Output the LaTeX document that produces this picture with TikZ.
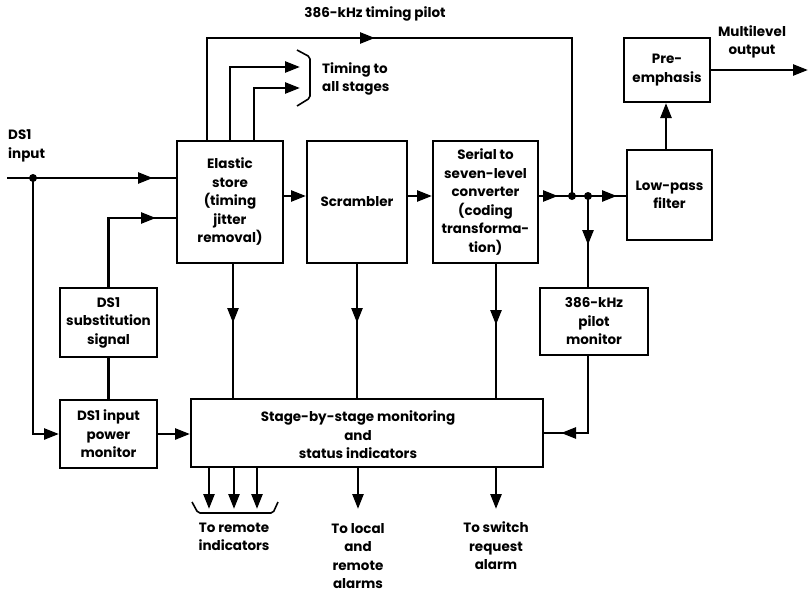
\documentclass[tikz,border=0pt]{standalone}
\usepackage{fontspec}
\setmainfont{Poppins}
\usetikzlibrary{arrows.meta,decorations.markings,calc}
\begin{document}
\begin{tikzpicture}[x=1pt,y=-1pt,
  font=\fontsize{13.5}{18.5}\selectfont\bfseries,
  box/.style={draw, line width=2pt, align=center, inner sep=0pt},
  wire/.style={line width=2.6pt},
  tip/.style={-{Triangle[length=15pt,width=11pt]}},
  arrowat/.style={postaction={decorate, decoration={markings, mark=at position #1 with {\arrow{Triangle[length=15pt,width=11pt]}}}}},
  dot/.style={circle, fill, inner sep=0pt, minimum size=8pt},
  lbl/.style={align=center, inner sep=0pt}]
\useasboundingbox (0,0) rectangle (812,592);

% boxes
\node[box, minimum width=106pt, minimum height=122pt] (el) at (230,202) {Elastic\\store\\(timing\\jitter\\removal)};
\node[box, minimum width=100pt, minimum height=122pt] (scr) at (357,202) {Scrambler};
\node[box, minimum width=105pt, minimum height=122pt] (ser) at (485.5,202) {Serial to\\seven-level\\converter\\(coding\\transforma-\\tion)};
\node[box, minimum width=85pt, minimum height=90pt] (lpf) at (669.5,195) {Low-pass\\filter};
\node[box, minimum width=86pt, minimum height=64pt] (pre) at (667,70) {Pre-\\emphasis};
\node[box, minimum width=97pt, minimum height=69pt] (sub) at (108.5,322.5) {DS1\\substitution\\signal};
\node[box, minimum width=97pt, minimum height=68pt] (pwr) at (108.5,434) {DS1 input\\power\\monitor};
\node[box, minimum width=352pt, minimum height=68pt] (stage) at (367,433) {};
\node[lbl] (stagetxt) at (358,435) {Stage-by-stage monitoring\\and\\status indicators};
\node[box, minimum width=108pt, minimum height=67pt] (pil) at (594,321.5) {386-kHz\\pilot\\monitor};

% labels
\node[lbl] (tplbl) at (375,14) {386-kHz timing pilot};
\node[lbl] (mlo) at (752,42) {Multilevel\\output};
\node[lbl, align=left, anchor=west] (ds1in) at (8,146) {DS1\\input};
\node[lbl, align=left, anchor=west] (tts) at (322,79) {Timing to\\all stages};
\node[lbl] (trem) at (234,537) {To remote\\indicators};
\node[lbl] (tloc) at (358,556) {To local\\and\\remote\\alarms};
\node[lbl] (tsw) at (496,546) {To switch\\request\\alarm};

% coordinates
\coordinate (in0) at (7,178);
\coordinate (j1) at (33,178);
\coordinate (chain) at (0,196);
\coordinate (tpc) at (572,38);
\coordinate (ja) at (572,196);
\coordinate (jb) at (588,196);
\coordinate (tb1) at (300,67);
\coordinate (tb2) at (300,88);
\coordinate (x1) at (233,0);
\coordinate (x3) at (496,0);
\coordinate (x4) at (666,0);
\coordinate (out) at (808,70);
\coordinate (r1) at (209,509);
\coordinate (r2) at (234,509);
\coordinate (r3) at (257,509);
\coordinate (r4) at (358,509);
\coordinate (r5) at (496,509);

% input
\draw[wire, arrowat=146pt] (in0) -- (el.west |- in0);
\draw[wire, tip] (j1) |- (pwr.west);
\node[dot] (d1) at (j1) {};
\draw[wire, arrowat=-20pt] (sub.north) |- ($(el.west)+(0,16)$);
\draw[wire] (sub.south) -- (pwr.north);

% chain
\draw[wire, tip] (el.east |- chain) -- (scr.west |- chain);
\draw[wire, tip] (scr.east |- chain) -- (ser.west |- chain);
\draw[wire, arrowat=19pt, arrowat=-9pt] (ser.east |- chain) -- (lpf.west |- chain);
\node[dot] (d2) at (ja) {};
\node[dot] (d3) at (jb) {};

% timing
\draw[wire, arrowat=270pt] ($(el.north west)+(31,0)$) |- (tpc) -- (ja);
\draw[wire, tip] ($(el.north west)+(54,0)$) |- (tb1);
\draw[wire, tip] ($(el.north west)+(78,0)$) |- (tb2);
\draw[line width=1.6pt, rounded corners=2pt] (297,50) -- (310,57) -- (310,98) -- (297,106);

% pilot
\draw[wire, arrowat=49pt] (jb) -- (jb |- pil.north);
\draw[wire, arrowat=-17pt] (pil.south -| jb) |- (stage.east);

% to stage
\draw[wire, tip] (pwr.east) -- (stage.west |- pwr.east);
\draw[wire, arrowat=59pt] (el.south -| x1) -- (stage.north -| x1);
\draw[wire, arrowat=59pt] (scr.south) -- (stage.north -| scr.south);
\draw[wire, arrowat=61pt] (ser.south -| x3) -- (stage.north -| x3);

% output
\draw[wire, tip] (lpf.north -| x4) -- (pre.south -| x4);
\draw[wire, tip] (pre.east) -- (out);

% stage outputs
\draw[wire, tip] (stage.south -| r1) -- (r1);
\draw[wire, tip] (stage.south -| r2) -- (r2);
\draw[wire, tip] (stage.south -| r3) -- (r3);
\draw[wire, tip] (stage.south -| r4) -- (r4);
\draw[wire, tip] (stage.south -| r5) -- (r5);
\draw[line width=1.6pt, rounded corners=2pt] (192,502) -- (198,513) -- (273,513) -- (278,502);
\end{tikzpicture}
\end{document}
